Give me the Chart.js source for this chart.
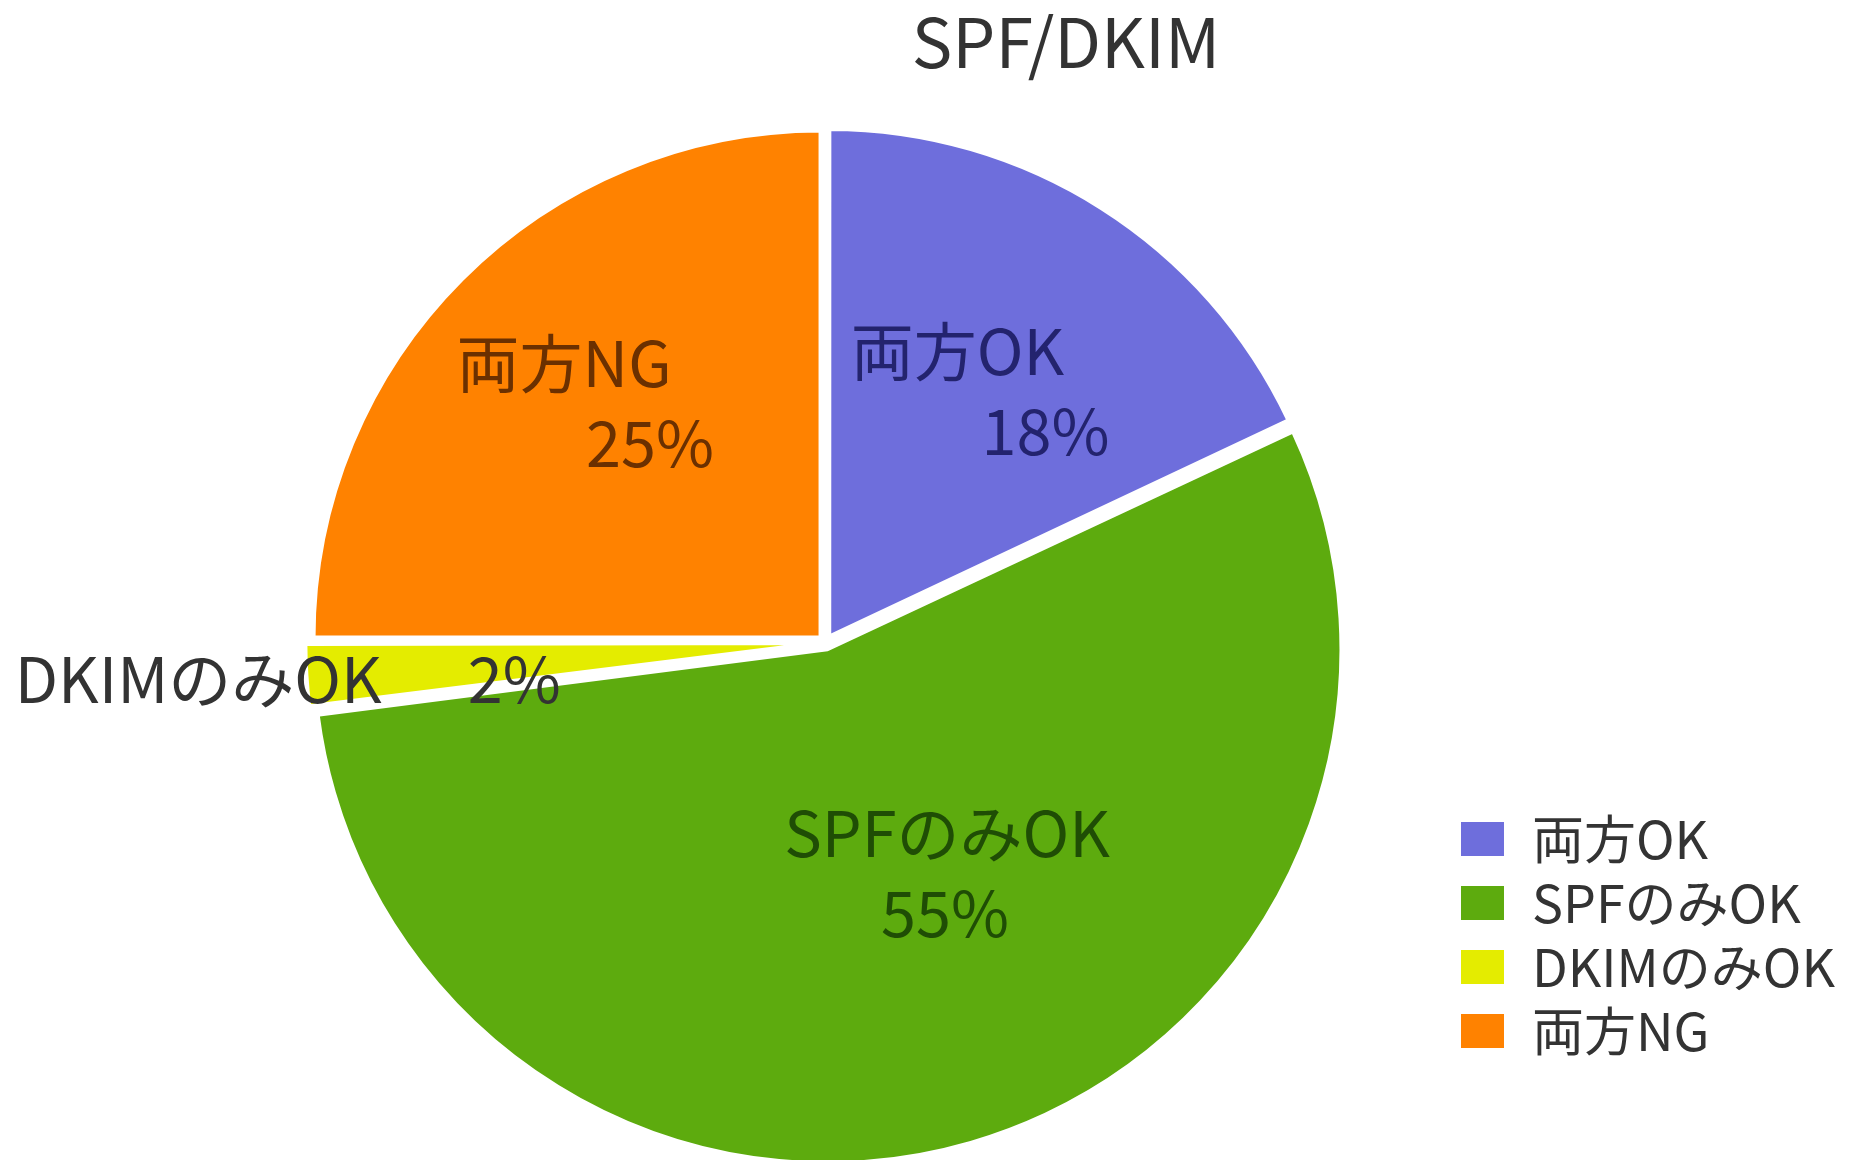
<!DOCTYPE html>
<html>
<head>
<meta charset="utf-8">
<script src="https://cdn.jsdelivr.net/npm/chart.js@4.4.1/dist/chart.umd.min.js"></script>
<style>
  body { margin: 0; background: #fff; }
  #wrap { width: 1855px; height: 1160px; }
</style>
</head>
<body>
<div id="wrap"><canvas id="migrafica"></canvas></div>
<script>
let labels = ['両方OK', 'SPFのみOK', 'DKIMのみOK', '両方NG'];
let percents = [18, 55, 2, 25];
let chartTitle = 'SPF/DKIM';

const FONT = '"Noto Sans CJK JP", "Noto Sans", sans-serif';

// label placement: fraction of radius along the slice middle, shifts of each line
const labelPos = [
  { r: 0.60, dx1: -31, dx2: 57, dy: 5 },
  { r: 0.52, dx1: 48, dx2: 46, dy: -23 },
  { r: 0.79, dx1: 0, dx2: 0, dy: 11, outside: true },
  { r: 0.64, dx1: -32, dx2: 54, dy: -10 }
];
const textColors = ['#23236e', '#1f4d05', '#333333', '#6b3000'];

const titlePlugin = {
  id: 'titleText',
  afterDraw(chart) {
    const ctx = chart.ctx;
    ctx.save();
    ctx.font = '68px ' + FONT;
    ctx.fillStyle = '#333';
    ctx.textAlign = 'center';
    ctx.textBaseline = 'middle';
    ctx.fillText(chartTitle, 1066, 42);
    ctx.restore();
  }
};

const sliceLabels = {
  id: 'sliceLabels',
  afterDatasetsDraw(chart) {
    const ctx = chart.ctx;
    const arcs = chart.getDatasetMeta(0).data;
    ctx.save();
    ctx.font = '63px ' + FONT;
    ctx.textBaseline = 'middle';
    arcs.forEach((arc, i) => {
      const p = arc.getProps(['x', 'y', 'startAngle', 'endAngle', 'outerRadius'], true);
      const lp = labelPos[i];
      const mid = (p.startAngle + p.endAngle) / 2;
      const cx = p.x + Math.cos(mid) * p.outerRadius * lp.r;
      const cy = p.y + Math.sin(mid) * p.outerRadius * lp.r + lp.dy;
      ctx.fillStyle = textColors[i];
      if (lp.outside) {
        ctx.textAlign = 'right';
        ctx.fillText(labels[i], cx - 44, cy);
        ctx.textAlign = 'left';
        ctx.fillText(percents[i] + '%', cx + 42, cy);
      } else {
        ctx.textAlign = 'center';
        ctx.fillText(labels[i], cx + lp.dx1, cy - 40);
        ctx.fillText(percents[i] + '%', cx + lp.dx2, cy + 40);
      }
    });
    ctx.restore();
  }
};

const graf = document.getElementById('migrafica').getContext('2d');
const migrafica = new Chart(graf, {
  type: 'pie',
  data: {
    labels: labels,
    datasets: [{
      data: percents,
      backgroundColor: ['#6e6edc', '#5dab0e', '#e4ec00', '#ff8200'],
      borderColor: '#ffffff',
      borderWidth: 4,
      offset: 28,
      radius: 507,
      clip: false
    }]
  },
  options: {
    responsive: true,
    maintainAspectRatio: false,
    animation: false,
    layout: { padding: { left: 204, right: 10, top: 216, bottom: 91 } },
    plugins: {
      title: { display: false },
      tooltip: { enabled: false },
      legend: {
        position: 'right',
        align: 'end',
        labels: {
          boxWidth: 47,
          boxHeight: 38,
          padding: 12,
          color: '#333',
          font: { size: 52, family: FONT }
        }
      }
    }
  },
  plugins: [titlePlugin, sliceLabels]
});
</script>
</body>
</html>
